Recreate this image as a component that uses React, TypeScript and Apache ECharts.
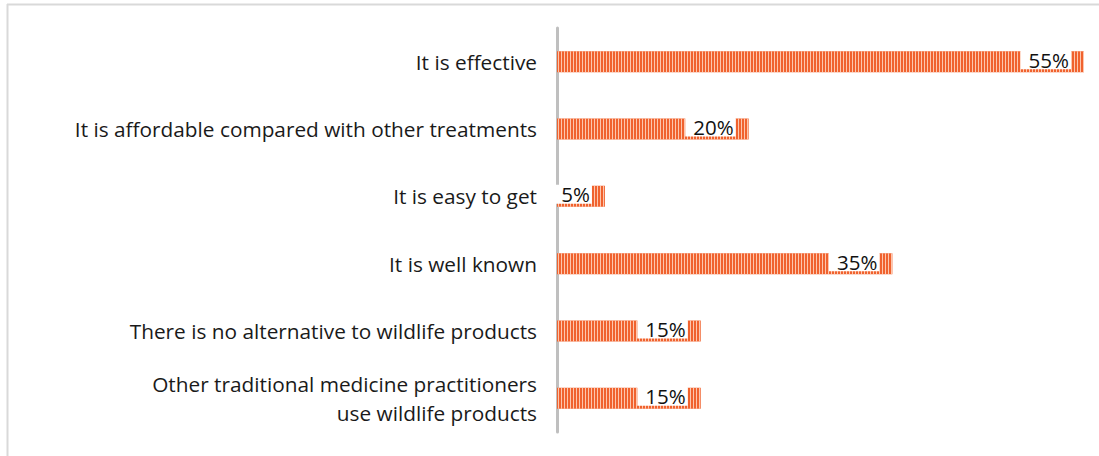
import React, { useEffect, useRef } from "react";
import * as echarts from "echarts";

const categories = [
  "It is effective",
  "It is affordable compared with other treatments",
  "It is easy to get",
  "It is well known",
  "There is no alternative to wildlife products",
  "Other traditional medicine practitioners\nuse wildlife products",
];
const values = [55, 20, 5, 35, 15, 15];

export default function App() {
  const ref = useRef<HTMLDivElement>(null);
  useEffect(() => {
    const chart = echarts.init(ref.current!, null, { renderer: "svg" });
    chart.setOption({
      animation: false,
      backgroundColor: "#ffffff",
      grid: { left: 557, right: 15, top: 28, bottom: 24 },
      xAxis: { type: "value", min: 0, max: 55, show: false },
      yAxis: {
        type: "category",
        data: categories,
        inverse: true,
        axisLine: { show: true, lineStyle: { color: "#bfbfbf", width: 3 } },
        axisTick: { show: false },
        axisLabel: {
          color: "#1a1a1a",
          fontFamily: "Open Sans",
          fontSize: 20.8,
          margin: 20,
          align: "right",
          lineHeight: 29,
        },
      },
      series: [
        {
          type: "bar",
          data: values,
          barWidth: 21,
          itemStyle: {
            color: "#f0622e",
            decal: {
              symbol: "rect",
              symbolSize: 1,
              dashArrayX: [1, 2],
              dashArrayY: [1, 0],
              rotation: 0,
              color: "rgba(255,215,195,0.85)",
            },
          },
          label: {
            show: true,
            position: "insideRight",
            offset: [-8, -2],
            formatter: "{c}%",
            color: "#111",
            fontFamily: "Open Sans",
            fontSize: 20.5,
            lineHeight: 19,
            backgroundColor: "#ffffff",
            padding: [0, 2, 0, 8],
          },
        },
      ],
      graphic: [
        { type: "line", shape: { x1: 7.5, y1: 4, x2: 7.5, y2: 456 }, style: { stroke: "#d9d9d9", lineWidth: 2 } },
        { type: "line", shape: { x1: 7, y1: 4.5, x2: 1099, y2: 4.5 }, style: { stroke: "#d9d9d9", lineWidth: 2 } },
      ],
    });
    return () => chart.dispose();
  }, []);
  return (
    <div
      ref={ref}
      style={{ position: "absolute", left: 0, top: 0, width: 1099, height: 456 }}
    />
  );
}
